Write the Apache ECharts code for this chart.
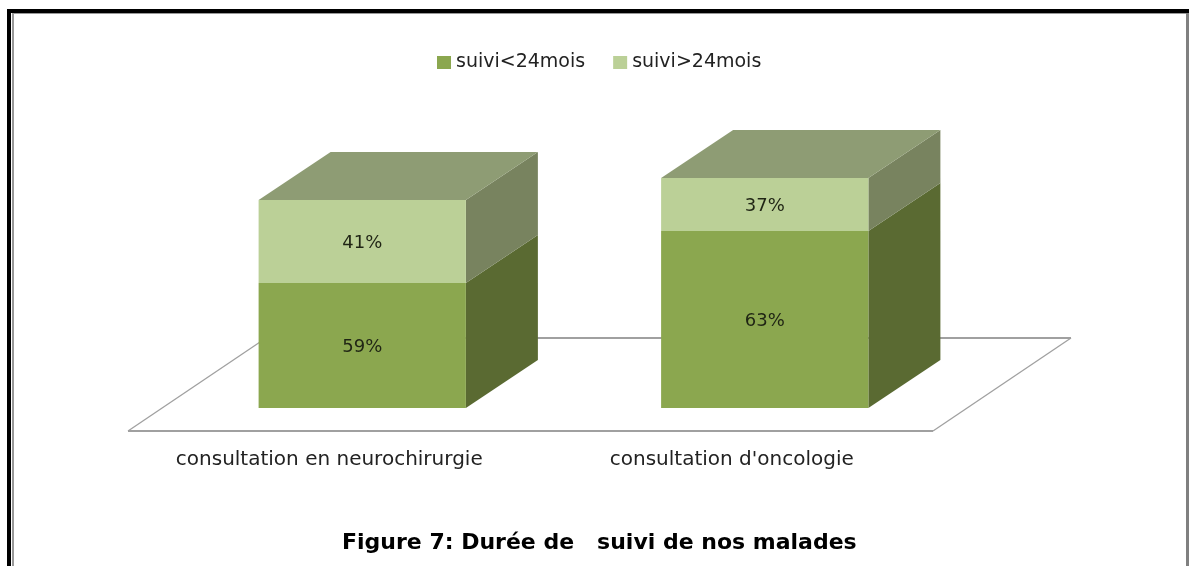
<!DOCTYPE html>
<html>
<head>
<meta charset="utf-8">
<script src="https://cdn.jsdelivr.net/npm/echarts@6/dist/echarts.min.js"></script>
<style>
  html, body { margin: 0; padding: 0; background: #fff; }
  #chart { width: 1189px; height: 566px; }
</style>
</head>
<body>
<div id="chart"></div>
<script>
const categories = ["consultation en neurochirurgie", "consultation d'oncologie"];
const seriesNames = ["suivi<24mois", "suivi>24mois"];
// printed percentages
const labelsUnder24 = [59, 63];
const labelsOver24 = [41, 37];
// drawn block heights (the blocks in the picture do not follow the printed labels)
const heightsUnder24 = [54.3, 77];
const heightsOver24 = [36.1, 23];

const FONT = '"DejaVu Sans", sans-serif';
const BAR_RATIO = 0.515;
const BAR_SHIFT = [33, -23];
const BAR_DEPTH = [72, -48];
const FLOOR_DEPTH = [138, -93];
const TOP_COLOR = "#8e9c74";

const chart = echarts.init(document.getElementById("chart"));

function poly(points, fill) {
  return { type: "polygon", shape: { points }, style: { fill } };
}

function renderBlock(sideColor, withTop, frontColor) {
  return (params, api) => {
    const bandWidth = api.size([1, 0])[0];
    const width = bandWidth * BAR_RATIO;
    const base = api.coord([api.value(0), api.value(1)]);
    const top = api.coord([api.value(0), api.value(2)]);
    const x0 = base[0] - width / 2 + BAR_SHIFT[0];
    const x1 = x0 + width;
    const yBase = base[1] + BAR_SHIFT[1];
    const yTop = top[1] + BAR_SHIFT[1];
    const [dx, dy] = BAR_DEPTH;

    const children = [
      poly([[x1, yTop], [x1 + dx, yTop + dy], [x1 + dx, yBase + dy], [x1, yBase]], sideColor),
      poly([[x0, yTop], [x1, yTop], [x1, yBase], [x0, yBase]], frontColor),
    ];
    if (withTop) {
      children.push(poly([[x0, yTop], [x0 + dx, yTop + dy], [x1 + dx, yTop + dy], [x1, yTop]], TOP_COLOR));
    }
    children.push({
      type: "text",
      style: {
        x: (x0 + x1) / 2,
        y: (yTop + yBase) / 2 + 2,
        text: api.value(3) + "%",
        fill: "#1f2414",
        font: `18px ${FONT}`,
        align: "center",
        verticalAlign: "middle",
      },
    });
    return { type: "group", children };
  };
}

function renderFloor(params) {
  const { x, y, width, height } = params.coordSys;
  const yFront = y + height;
  const [dx, dy] = FLOOR_DEPTH;
  const gray = "#a0a0a0";
  return {
    type: "group",
    children: [
      { type: "line", shape: { x1: x, y1: yFront, x2: x + dx, y2: yFront + dy }, style: { stroke: gray, lineWidth: 1.3 } },
      { type: "line", shape: { x1: x + width, y1: yFront, x2: x + width + dx, y2: yFront + dy }, style: { stroke: gray, lineWidth: 1.3 } },
      { type: "line", shape: { x1: x, y1: yFront, x2: x + width, y2: yFront }, style: { stroke: gray, lineWidth: 2 } },
      { type: "line", shape: { x1: x + dx, y1: yFront + dy, x2: x + width + dx, y2: yFront + dy }, style: { stroke: gray, lineWidth: 2 } },
    ],
  };
}

chart.setOption({
  animation: false,
  backgroundColor: "#fff",
  title: {
    text: "Figure 7: Durée de   suivi de nos malades",
    left: 337,
    top: 527,
    textStyle: { fontFamily: FONT, fontSize: 22, fontWeight: "bold", color: "#000" },
  },
  legend: {
    top: 48,
    left: 432,
    icon: "rect",
    itemWidth: 14,
    itemHeight: 13,
    itemGap: 28,
    data: seriesNames,
    textStyle: { fontFamily: FONT, fontSize: 19, color: "#222" },
  },
  grid: { left: 128, right: 256, top: 201, bottom: 135 },
  xAxis: {
    type: "category",
    data: categories,
    axisLine: { show: false },
    axisTick: { show: false },
    axisLabel: { margin: 19, fontFamily: FONT, fontSize: 20, color: "#222" },
  },
  yAxis: { type: "value", min: 0, max: 100, show: false },
  graphic: [
    { type: "rect", shape: { x: 7, y: 9, width: 1182, height: 4 }, style: { fill: "#000" } },
    { type: "rect", shape: { x: 7, y: 9, width: 4, height: 557 }, style: { fill: "#000" } },
    { type: "rect", shape: { x: 12, y: 13, width: 2, height: 553 }, style: { fill: "#999" } },
    { type: "rect", shape: { x: 12, y: 13, width: 1174, height: 1 }, style: { fill: "#999" } },
    { type: "rect", shape: { x: 1186, y: 13, width: 3, height: 553 }, style: { fill: "#808080" } },
  ],
  series: [
    {
      type: "custom",
      silent: true,
      renderItem: renderFloor,
      data: [[0, 0]],
      clip: false,
      z: 1,
      tooltip: { show: false },
    },
    {
      name: seriesNames[0],
      type: "custom",
      itemStyle: { color: "#8ba74f" },
      renderItem: renderBlock("#5a6a32", false, "#8ba74f"),
      encode: { x: 0, y: 2 },
      data: categories.map((c, i) => [i, 0, heightsUnder24[i], labelsUnder24[i]]),
      clip: false,
      z: 2,
    },
    {
      name: seriesNames[1],
      type: "custom",
      itemStyle: { color: "#bbd097" },
      renderItem: renderBlock("#78835f", true, "#bbd097"),
      encode: { x: 0, y: 2 },
      data: categories.map((c, i) => [i, heightsUnder24[i], heightsUnder24[i] + heightsOver24[i], labelsOver24[i]]),
      clip: false,
      z: 3,
    },
  ],
});
</script>
</body>
</html>
